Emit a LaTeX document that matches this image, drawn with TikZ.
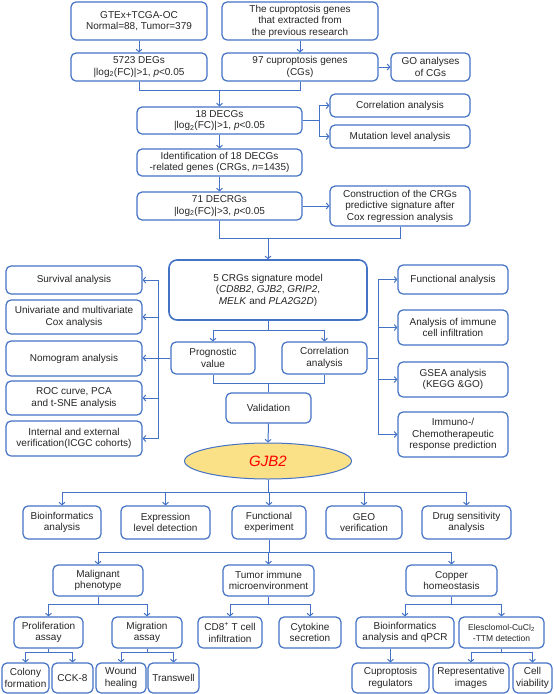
\documentclass[tikz,border=0pt]{standalone}
\usepackage{fontspec}
\setmainfont{Liberation Sans}
\usetikzlibrary{arrows.meta,shapes.geometric}
\definecolor{lblue}{RGB}{68,114,196}
\definecolor{ellfill}{RGB}{250,224,135}
\tikzset{
 box/.style={draw=lblue, line width=1.2pt, rounded corners=5pt, fill=white, align=center, inner sep=0pt, font=\fontsize{10}{11.5}\selectfont, text=black!85},
 bigbox/.style={box, line width=1.6pt, rounded corners=8pt},
 conn/.style={draw=lblue, line width=1pt, -{Straight Barb[length=2.5pt,width=6pt]}},
 plain/.style={draw=lblue, line width=1pt},
}
\newcommand\bx[7][]{\node[box,#1, minimum width={(#5-#3)*1pt}, minimum height={(#6-#4)*1pt}] (#2) at ({(#3+#5)/2},{(#4+#6)/2}) {#7};}
\begin{document}
\begin{tikzpicture}[x=1pt,y=-1pt]
\useasboundingbox (0,0) rectangle (554,694);
% top
\bx{gtex}{71}{2}{207}{40}{GTEx+TCGA-OC\\Normal=88, Tumor=379}
\bx{cup}{222}{2}{378}{40}{The cuproptosis genes\\that extracted from\\the previous research}
\bx{deg}{71}{53}{207}{81}{5723 DEGs\\|log\textsubscript{2}(FC)|>1, \textit{p}<0.05}
\bx{cg}{222}{53}{378}{81}{97 cuproptosis genes\\(CGs)}
\bx{go}{391}{53}{470}{81}{GO analyses\\of CGs}
\bx{decg}{137}{107}{302}{134}{18 DECGs\\|log\textsubscript{2}(FC)|>1, \textit{p}<0.05}
\bx{corr1}{330}{94}{470}{117}{Correlation analysis}
\bx{mut}{330}{125}{470}{148}{Mutation level analysis}
\bx{ident}{137}{149}{302}{176}{Identification of 18 DECGs\\-related genes (CRGs, \textit{n}=1435)}
\bx{decrg}{137}{192}{302}{220}{71 DECRGs\\|log\textsubscript{2}(FC)|>3, \textit{p}<0.05}
\bx{cons}{330}{186}{470}{226}{Construction of the CRGs\\predictive signature after\\Cox regression analysis}
% middle
\bx[bigbox]{model}{169}{260}{367}{320}{5 CRGs signature model\\(\textit{CD8B2}, \textit{GJB2}, \textit{GRIP2},\\\textit{MELK} and \textit{PLA2G2D})}
\bx{surv}{6}{266}{142}{294}{Survival analysis}
\bx{univ}{6}{300}{142}{334}{Univariate and multivariate\\Cox analysis}
\bx{nomo}{6}{341}{142}{376}{Nomogram analysis}
\bx{roc}{6}{381}{142}{415}{ROC curve, PCA\\and t-SNE analysis}
\bx{intv}{6}{421}{142}{456}{Internal and external\\verification(ICGC cohorts)}
\bx{prog}{171}{342}{255}{374}{Prognostic\\value}
\bx{corr2}{282}{342}{367}{374}{Correlation\\analysis}
\bx{valid}{226}{393}{311}{423}{Validation}
\bx{func}{398}{265}{508}{294}{Functional analysis}
\bx{immu}{398}{310}{508}{345}{Analysis of immune\\cell infiltration}
\bx{gsea}{398}{362}{508}{397}{GSEA analysis\\(KEGG \&GO)}
\bx{chemo}{398}{412}{508}{457}{Immuno-/\\Chemotherapeutic\\response prediction}
\node[ellipse, draw=lblue, fill=ellfill, line width=1pt, minimum width=167pt, minimum height=36pt, inner sep=0pt, text=red, font=\fontsize{15}{18}\selectfont\itshape] (gjb2) at (268,461) {GJB2};
% bottom
\bx{bio}{23}{506}{101}{539}{Bioinformatics\\analysis}
\bx{expr}{121}{506}{210}{539}{Expression\\level detection}
\bx{fexp}{232}{506}{306}{539}{Functional\\experiment}
\bx{geo}{326}{506}{402}{539}{GEO\\verification}
\bx{drug}{422}{506}{511}{539}{Drug sensitivity\\analysis}
\bx{mal}{53}{565}{143}{596}{Malignant\\phenotype}
\bx{tum}{223}{565}{314}{596}{Tumor immune\\microenvironment}
\bx{cop}{406}{565}{497}{596}{Copper\\homeostasis}
\bx{prol}{14}{617}{83}{648}{Proliferation\\assay}
\bx{migr}{112}{617}{182}{648}{Migration\\assay}
\bx{cd8}{198}{617}{262}{648}{CD8\textsuperscript{+} T cell\\infiltration}
\bx{cyto}{279}{617}{341}{648}{Cytokine\\secretion}
\bx{bqpcr}{356}{617}{454}{648}{Bioinformatics\\analysis and qPCR}
\bx[font=\fontsize{8.5}{11}\selectfont]{eles}{459}{617}{544}{648}{Elesclomol-CuCl\textsubscript{2}\\-TTM detection}
\bx{colony}{2}{663}{49}{693}{Colony\\formation}
\bx{cck}{52}{663}{93}{693}{CCK-8}
\bx{wound}{96}{663}{146}{693}{Wound\\healing}
\bx{trans}{148}{663}{199}{693}{Transwell}
\bx{cupreg}{352}{663}{429}{693}{Cuproptosis\\regulators}
\bx{rep}{433}{663}{509}{693}{Representative\\images}
\bx{cell}{513}{663}{552}{693}{Cell\\viability}
% connectors top
\draw[conn] (gtex.south) -- (deg.north);
\draw[conn] (cup.south) -- (cg.north);
\draw[conn] (cg.east) -- (go.west);
\draw[plain] (deg.south) -- ++(0,9) coordinate (j1) -| (cg.south);
\draw[conn] (j1 -| decg.north) -- (decg.north);
\draw[plain] (decg.east) -- ++(17,0) coordinate (j2);
\draw[conn] (j2) |- (corr1.west);
\draw[conn] (j2) |- (mut.west);
\draw[conn] (decg.south) -- (ident.north);
\draw[conn] (ident.south) -- (decrg.north);
\draw[conn] (decrg.east) -- (cons.west);
\draw[plain] (decrg.south) -- ++(0,18) coordinate (j3) -| (cons.south);
\draw[conn] (j3 -| model.north) -- (model.north);
% left spine
\path (prog.west) ++(-12,0) coordinate (ls);
\draw[conn] (prog.west) -- (prog.west -| nomo.east);
\draw[conn] (ls) |- (surv.east);
\draw[conn] (ls) |- (univ.east);
\draw[conn] (ls) |- (roc.east);
\draw[conn] (ls) |- (intv.east);
% model branches
\draw[plain] (model.south) -- ++(0,10) coordinate (j4);
\draw[conn] (j4) -| (prog.north);
\draw[conn] (j4) -| (corr2.north);
\draw[plain] (prog.south) -- ++(0,9) coordinate (j5) -| (corr2.south);
\draw[plain] (j5 -| valid.north) -- (valid.north);
\draw[conn] (valid.south) -- (gjb2.north);
% right spine
\draw[plain] (corr2.east) -- ++(11,0) coordinate (rs);
\draw[conn] (rs) |- (func.west);
\draw[conn] (rs) |- (immu.west);
\draw[conn] (rs) |- (gsea.west);
\draw[conn] (rs) |- (chemo.west);
% gjb2 branches
\draw[plain] (gjb2.south) -- ++(0,13) coordinate (j6);
\foreach \t in {bio,expr,fexp,geo,drug} {\draw[conn] (j6) -| (\t.north);}
\draw[plain] (fexp.south) -- ++(0,13) coordinate (j7);
\foreach \t in {mal,tum,cop} {\draw[conn] (j7) -| (\t.north);}
\draw[plain] (mal.south) -- ++(0,8) coordinate (j8);
\draw[conn] (j8) -| (prol.north);
\draw[conn] (j8) -| (migr.north);
\draw[plain] (tum.south) -- ++(0,8) coordinate (j9);
\draw[conn] (j9) -| (cd8.north);
\draw[conn] (j9) -| (cyto.north);
\draw[plain] (cop.south) -- ++(0,8) coordinate (j10);
\draw[conn] (j10) -| (bqpcr.north);
\draw[conn] (j10) -| (eles.north);
\draw[plain] (prol.south) -- ++(0,4) coordinate (j11);
\draw[conn] (j11) -| (colony.north);
\draw[conn] (j11) -| (cck.north);
\draw[plain] (migr.south) -- ++(0,4) coordinate (j12);
\draw[conn] (j12) -| (wound.north);
\draw[conn] (j12) -| (trans.north);
\draw[conn] (bqpcr.south -| cupreg.north) -- (cupreg.north);
\draw[plain] (eles.south) -- ++(0,4) coordinate (j13);
\draw[conn] (j13) -| (rep.north);
\draw[conn] (j13) -| (cell.north);
\end{tikzpicture}
\end{document}
